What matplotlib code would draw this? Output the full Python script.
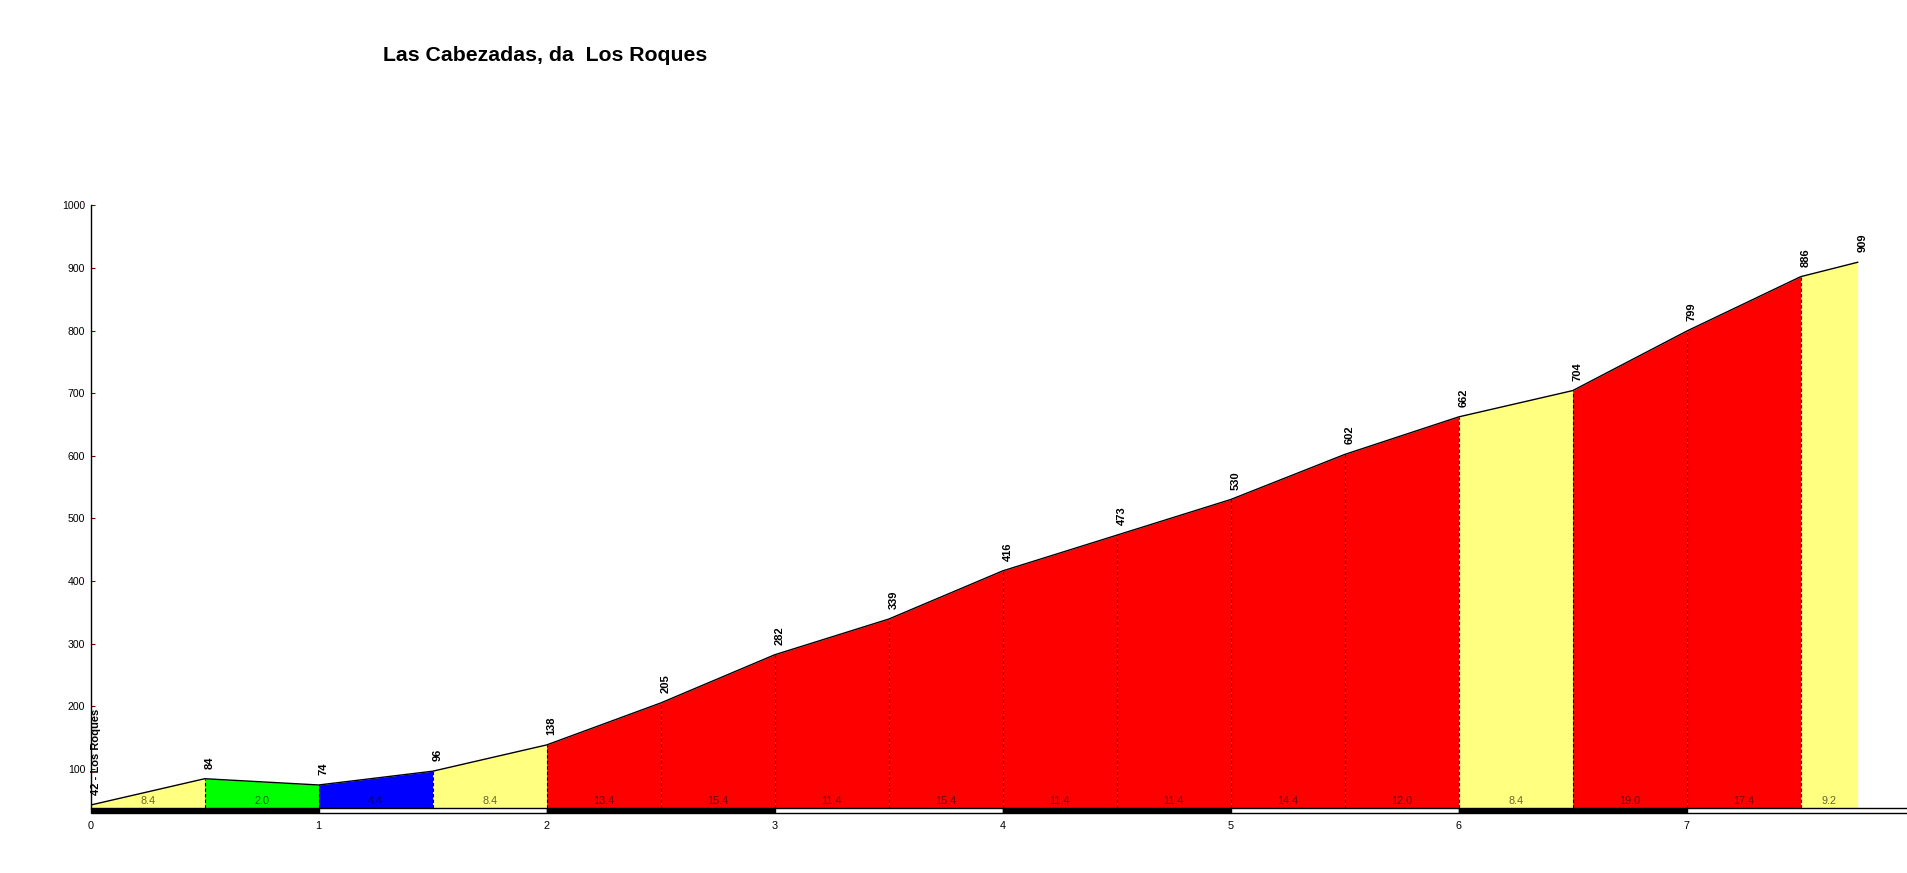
import matplotlib
matplotlib.use("Agg")
import matplotlib.pyplot as plt
from matplotlib.patches import Rectangle

plt.rcParams['font.family'] = ['Liberation Sans', 'DejaVu Sans']

# ---- data ----
distances = [0.0, 0.5, 1.0, 1.5, 2.0, 2.5, 3.0, 3.5, 4.0, 4.5, 5.0, 5.5, 6.0, 6.5, 7.0, 7.5, 7.75]
altitudes = [42, 84, 74, 96, 138, 205, 282, 339, 416, 473, 530, 602, 662, 704, 799, 886, 909]
point_labels = ["42 - Los Roques", "84", "74", "96", "138", "205", "282", "339", "416",
                "473", "530", "602", "662", "704", "799", "886", "909"]
gradient_labels = ["8.4", "2.0", "4.4", "8.4", "13.4", "15.4", "11.4", "15.4", "11.4",
                   "11.4", "14.4", "12.0", "8.4", "19.0", "17.4", "9.2"]
segment_colors = ["#FFFF80", "#00FF00", "#0000FF", "#FFFF80", "#FF0000", "#FF0000", "#FF0000",
                  "#FF0000", "#FF0000", "#FF0000", "#FF0000", "#FF0000", "#FFFF80", "#FF0000",
                  "#FF0000", "#FFFF80"]
km_ticks = [0, 1, 2, 3, 4, 5, 6, 7]
y_ticks = [100, 200, 300, 400, 500, 600, 700, 800, 900, 1000]
title = "Las Cabezadas, da  Los Roques"

# ---- layout ----
W, H = 1908, 873
x0px = 90.7
pxkm = 228.0
ybase_px = 807.7
ytop_px = 205.3
ymin, ymax = 37.7, 1000

fig = plt.figure(figsize=(W / 100, H / 100), dpi=100)
fig.patch.set_facecolor("white")
ax = fig.add_axes([x0px / W, (H - ybase_px) / H, (W - x0px) / W, (ybase_px - ytop_px) / H])
xmax = (W - x0px) / pxkm
ax.set_xlim(0, xmax)
ax.set_ylim(ymin, ymax)

# filled segments
for i in range(len(distances) - 1):
    xs = [distances[i], distances[i + 1]]
    ys = [altitudes[i], altitudes[i + 1]]
    ax.fill_between(xs, [ymin, ymin], ys, color=segment_colors[i], lw=0, zorder=1)

# profile line
ax.plot(distances, altitudes, color="black", lw=1, zorder=3)

# dashed separators
ax.vlines(distances[1:-1], ymin, altitudes[1:-1], colors="black",
          linestyles=(0, (3, 2)), lw=0.8, zorder=2)

# km strip below the baseline
strip_h = 8.9
for k in km_ticks:
    x_start = k
    x_end = k + 1 if k < km_ticks[-1] else xmax
    fc = "black" if k % 2 == 0 else "white"
    r = Rectangle((x_start, ymin - strip_h), x_end - x_start, strip_h,
                  facecolor=fc, edgecolor="black", lw=1, clip_on=False, zorder=4)
    ax.add_patch(r)

# x labels
for k in km_ticks:
    ax.annotate(str(k), xy=(k, 0), xycoords=("data", "axes fraction"),
                xytext=(0, -18.6), textcoords="offset pixels",
                ha="center", va="center", fontsize=7.8, color="black",
                annotation_clip=False)

# elevation labels
for d, a, lab in zip(distances, altitudes, point_labels):
    ax.annotate(lab, xy=(d, a), xytext=(5, 10), textcoords="offset pixels",
                rotation=90, ha="center", va="bottom", fontsize=8,
                fontweight="bold", color="black", annotation_clip=False)

# gradient labels
for i, g in enumerate(gradient_labels):
    mid = (distances[i] + distances[i + 1]) / 2
    ax.annotate(g, xy=(mid, 0), xycoords=("data", "axes fraction"),
                xytext=(0, 7), textcoords="offset pixels",
                ha="center", va="center", fontsize=7.8, color="black", alpha=0.6,
                zorder=5)

# axes styling
for s in ["top", "right", "bottom"]:
    ax.spines[s].set_visible(False)
ax.spines["left"].set_color("black")
ax.spines["left"].set_linewidth(1)
ax.set_yticks(y_ticks)
ax.set_yticklabels([str(v) for v in y_ticks])
ax.tick_params(axis="y", direction="in", length=3, color="#800000",
               labelsize=7.6, labelcolor="black", pad=4)
ax.set_xticks([])
ax.set_facecolor("white")

fig.text(382.7 / W, 1 - 55.8 / H, title, ha="left", va="center",
         fontsize=15.3, fontweight="bold", color="black")

fig.savefig("out.png", dpi=100)
